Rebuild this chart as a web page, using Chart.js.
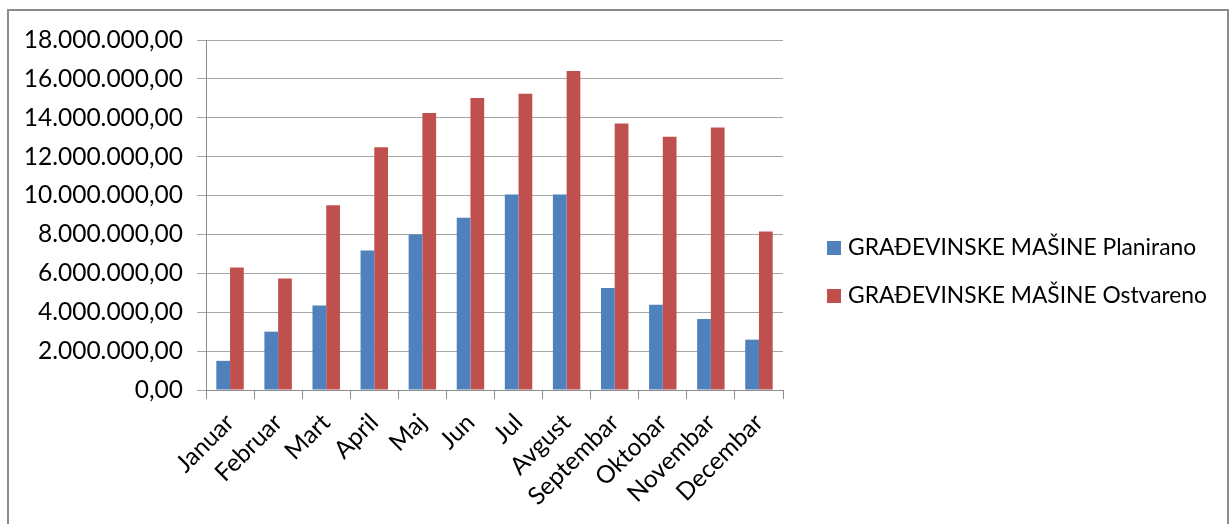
<!DOCTYPE html>
<html>
<head>
<meta charset="utf-8">
<title>Građevinske mašine – planirano i ostvareno</title>
<script src="https://cdn.jsdelivr.net/npm/chart.js@4.4.1/dist/chart.umd.min.js"></script>
<style>
  html, body { margin: 0; padding: 0; background: #ffffff; overflow: hidden; }
  #frame {
    position: absolute; left: 7px; top: 9px; width: 1222px; height: 540px;
    border: 2px solid #8c8c8c; box-sizing: border-box;
  }
  #wrap { position: absolute; left: 0; top: 0; width: 1230px; height: 524px; }
</style>
</head>
<body>
<div id="frame"></div>
<div id="wrap"><canvas id="chart" width="1230" height="524"></canvas></div>
<script>
// Months
const months = ['Januar', 'Februar', 'Mart', 'April', 'Maj', 'Jun', 'Jul',
                'Avgust', 'Septembar', 'Oktobar', 'Novembar', 'Decembar'];

// Planned values per month
const planirano = [1500000, 3000000, 4350000, 7180000, 8000000, 8860000,
                   10060000, 10060000, 5240000, 4380000, 3650000, 2590000];

// Realised values per month
const ostvareno = [6300000, 5730000, 9500000, 12480000, 14240000, 15020000,
                   15230000, 16410000, 13700000, 13030000, 13500000, 8150000];

// Series names
const seriesNames = ['GRAĐEVINSKE MAŠINE Planirano', 'GRAĐEVINSKE MAŠINE Ostvareno'];

// Y axis range
const yMin = 0;
const yMax = 18000000;
const yStep = 2000000;

const FONT = 'Lato, "Open Sans", sans-serif';
const AXIS_FONT_SIZE = 24.5;
const LEGEND_FONT_SIZE = 22.8;

function formatNumber(v) {
  const whole = Math.round(v).toString().replace(/\B(?=(\d{3})+(?!\d))/g, '.');
  return whole + ',00';
}

// Legend on the right, drawn beside the plot area
const sideLegend = {
  id: 'sideLegend',
  afterDraw(chart) {
    const ctx = chart.ctx;
    const x0 = chart.chartArea.right + 44;
    const midY = (chart.chartArea.top + chart.chartArea.bottom) / 2;
    const gap = 48;
    ctx.save();
    ctx.font = LEGEND_FONT_SIZE + 'px ' + FONT;
    ctx.textBaseline = 'alphabetic';
    chart.data.datasets.forEach((ds, i) => {
      const base = midY + 40 + i * gap;
      ctx.fillStyle = ds.backgroundColor;
      ctx.fillRect(x0, base - 14, 14, 14);
      ctx.fillStyle = '#000000';
      ctx.fillText(ds.label, x0 + 21, base);
    });
    ctx.restore();
  }
};

new Chart(document.getElementById('chart'), {
  type: 'bar',
  data: {
    labels: months,
    datasets: [
      { label: seriesNames[0], data: planirano, backgroundColor: '#4F81BD',
        categoryPercentage: 0.571, barPercentage: 1.0 },
      { label: seriesNames[1], data: ostvareno, backgroundColor: '#C0504D',
        categoryPercentage: 0.571, barPercentage: 1.0 }
    ]
  },
  options: {
    responsive: false,
    animation: false,
    devicePixelRatio: 1,
    layout: { padding: { left: 20, top: 40, right: 447, bottom: 0 } },
    plugins: {
      legend: { display: false },
      tooltip: { enabled: false }
    },
    scales: {
      x: {
        grid: {
          offset: true,
          drawOnChartArea: false,
          drawTicks: true,
          tickLength: 9,
          color: '#8c8c8c'
        },
        border: { display: true, color: '#8c8c8c', width: 1 },
        ticks: {
          color: '#000000',
          font: { family: FONT, size: AXIS_FONT_SIZE },
          minRotation: 45,
          maxRotation: 45,
          autoSkip: false,
          padding: 9
        },
        afterFit(scale) { scale.height = 134; }
      },
      y: {
        min: yMin,
        max: yMax,
        grid: {
          color: '#a6a6a6',
          tickLength: 9,
          drawTicks: true
        },
        border: { display: true, color: '#8c8c8c', width: 1 },
        ticks: {
          stepSize: yStep,
          color: '#000000',
          font: { family: FONT, size: AXIS_FONT_SIZE },
          padding: 14,
          callback: (v) => formatNumber(v)
        },
        afterFit(scale) { scale.width = 186; }
      }
    }
  },
  plugins: [sideLegend]
});
</script>
</body>
</html>
